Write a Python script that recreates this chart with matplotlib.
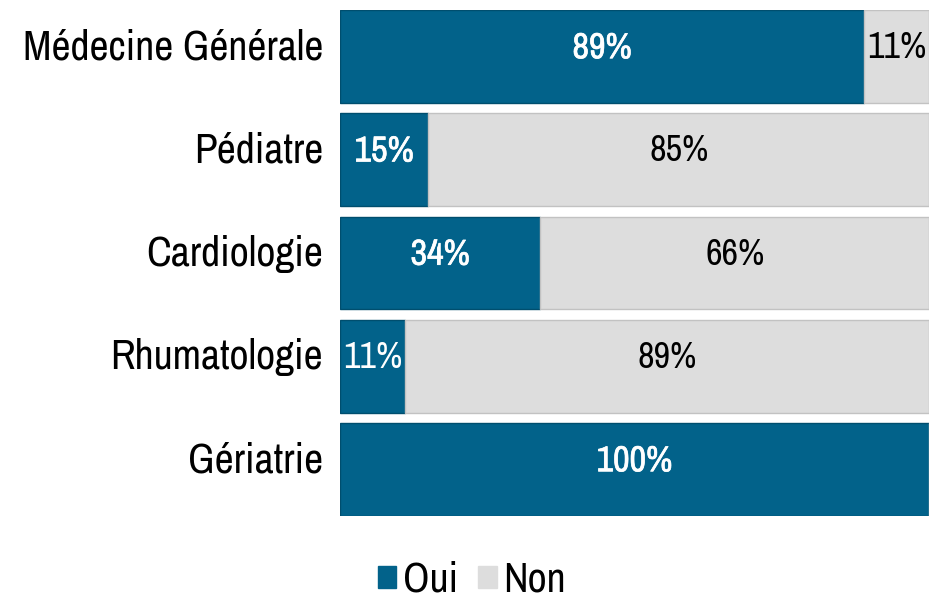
import matplotlib.pyplot as plt
import matplotlib.patheffects as pe
from matplotlib.patches import Patch
from matplotlib.transforms import blended_transform_factory

categories = ["Médecine Générale", "Pédiatre", "Cardiologie", "Rhumatologie", "Gériatrie"]
oui = [89, 15, 34, 11, 100]
non = [11, 85, 66, 89, 0]

OUI_COLOR = "#02628A"
NON_COLOR = "#DDDDDD"
plt.rcParams["font.family"] = ["Liberation Sans Narrow", "Archivo Narrow", "DejaVu Sans"]

fig = plt.figure(figsize=(9.38, 6.01), dpi=100)
ax = fig.add_axes([340 / 938, 1 - 516 / 601, (929 - 340) / 938, (516 - 10) / 601])

y = list(range(len(categories)))
ax.barh(y, oui, height=0.9, color=OUI_COLOR, edgecolor="#004E6E", linewidth=1)
ax.barh(y, non, left=oui, height=0.9, color=NON_COLOR, edgecolor="#C2C2C2", linewidth=1)

# text sits a little above the bar middle in the original
lift = 0.085
# fake a heavier weight, the narrow font has no bold
heavy = [pe.withStroke(linewidth=0.5, foreground="white")]
for i, (o, n) in enumerate(zip(oui, non)):
    if o > 0:
        ax.text(o / 2, i - lift, f"{o}%", ha="center", va="center", color="white",
                fontsize=26, path_effects=heavy if o >= 15 else None)
    if n > 0:
        ax.text(o + n / 2, i - lift, f"{n}%", ha="center", va="center", color="black",
                fontsize=26)

trans = blended_transform_factory(fig.transFigure, ax.transData)
for i, cat in enumerate(categories):
    ax.text(323 / 938, i - lift, cat, transform=trans, ha="right", va="center",
            fontsize=30)

ax.set_xlim(0, 100)
ax.set_ylim(len(categories) - 0.55, -0.45)
ax.set_yticks([])
ax.set_xticks([])
for s in ax.spines.values():
    s.set_visible(False)

handles = [Patch(color=OUI_COLOR, label="Oui"), Patch(color=NON_COLOR, label="Non")]
fig.legend(handles=handles, loc="center", bbox_to_anchor=(0.503, 0.035), ncol=2,
           frameon=False, fontsize=30, handlelength=0.45, handleheight=0.45,
           handletextpad=0.15, columnspacing=0.5)

fig.savefig("out.png", dpi=100)
